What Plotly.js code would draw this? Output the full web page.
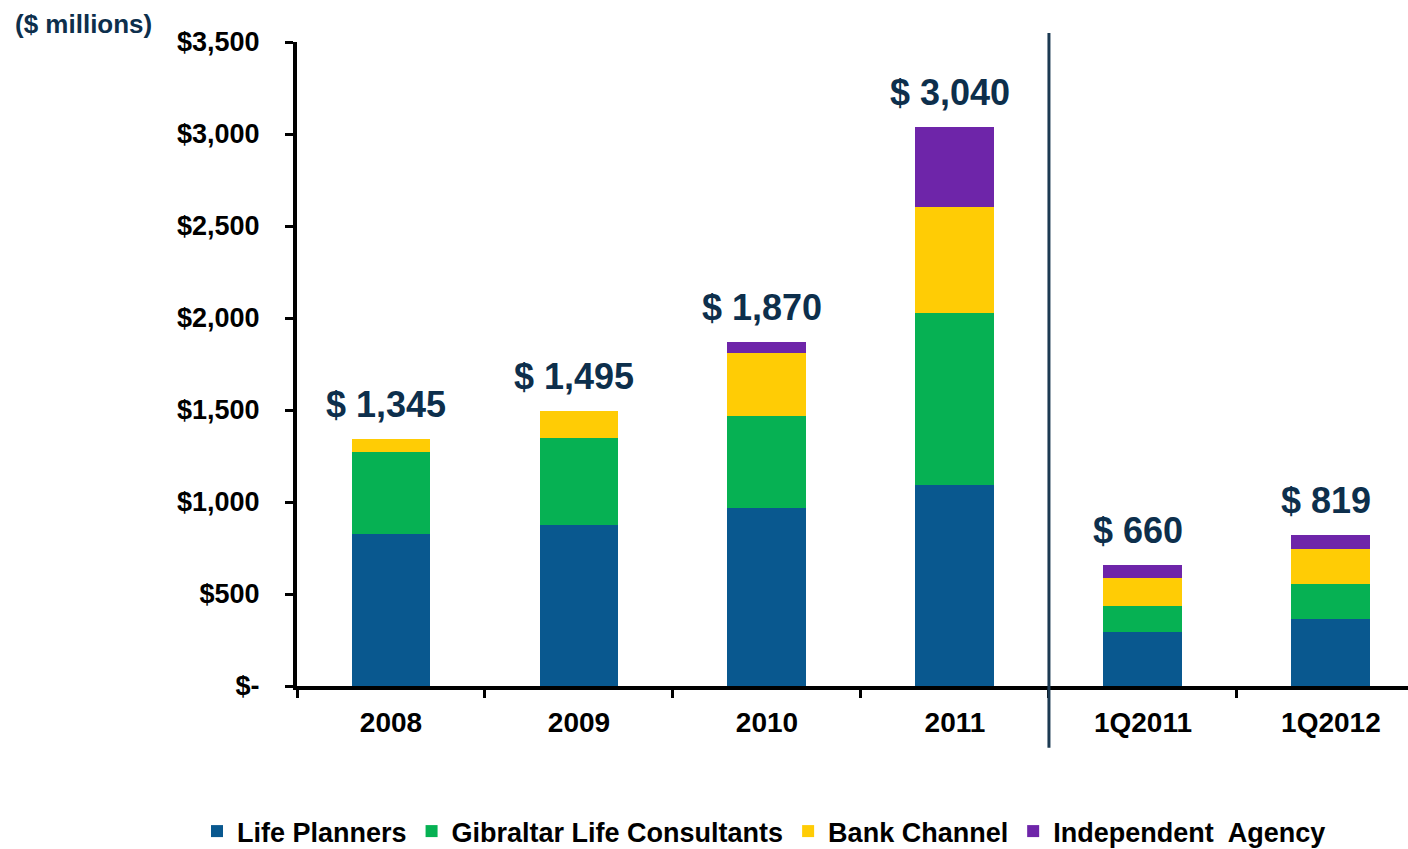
<!DOCTYPE html>
<html>
<head>
<meta charset="utf-8">
<script src="https://cdn.plot.ly/plotly-3.0.1.min.js"></script>
<style>
  html, body { margin: 0; padding: 0; background: #ffffff; }
  #chart { width: 1408px; height: 849px; }
</style>
</head>
<body>
<div id="chart"></div>
<script>
const categories = ["2008", "2009", "2010", "2011", "1Q2011", "1Q2012"];
const lifePlanners = [826, 875, 967, 1092, 293, 364];
const gibraltar = [445, 473, 500, 935, 142, 190];
const bankChannel = [74, 147, 343, 576, 152, 190];
const independentAgency = [null, null, 60, 437, 73, 75];
const totals = [1345, 1495, 1870, 3040, 660, 819];
const totalLabels = ["$ 1,345", "$ 1,495", "$ 1,870", "$ 3,040", "$ 660", "$ 819"];
const yTickVals = [0, 500, 1000, 1500, 2000, 2500, 3000, 3500];
const yTickText = ["$-", "$500", "$1,000", "$1,500", "$2,000", "$2,500", "$3,000", "$3,500"];

const FONT = "'Liberation Sans', Arial, Helvetica, sans-serif";
const NAVY = "#0d2f4c";

function series(name, values, color) {
  return {
    type: "bar",
    name: name,
    x: categories,
    y: values,
    width: 0.42,
    marker: { color: color, line: { width: 0 } },
    hoverinfo: "x+y+name"
  };
}

const data = [
  series("Life Planners", lifePlanners, "#09588f"),
  series("Gibraltar Life Consultants", gibraltar, "#06b153"),
  series("Bank Channel", bankChannel, "#ffcc05"),
  series("Independent  Agency", independentAgency, "#6e25a9")
];

const annotations = categories.map((c, i) => ({
  x: i,
  y: totals[i],
  xref: "x",
  yref: "y",
  text: "<b>" + totalLabels[i] + "</b>",
  showarrow: false,
  yanchor: "bottom",
  xanchor: "center",
  xshift: -5,
  yshift: 12,
  font: { family: FONT, size: 36, color: NAVY }
}));

annotations.push({
  xref: "paper", yref: "paper",
  x: -0.256, y: 1.028,
  xanchor: "left", yanchor: "middle",
  text: "<b>($ millions)</b>",
  showarrow: false,
  font: { family: FONT, size: 26, color: NAVY }
});

const layout = {
  width: 1408,
  height: 849,
  margin: { l: 297, r: 0, t: 42, b: 163, autoexpand: false },
  paper_bgcolor: "#ffffff",
  plot_bgcolor: "#ffffff",
  barmode: "stack",
  font: { family: FONT, color: "#000000" },
  xaxis: {
    type: "category",
    range: [-0.5, 5.41],
    showgrid: false,
    zeroline: false,
    showline: true,
    linecolor: "#000000",
    linewidth: 4,
    ticks: "outside",
    tickson: "boundaries",
    ticklen: 8,
    tickwidth: 3,
    tickcolor: "#000000",
    ticklabelstandoff: 8,
    tickfont: { family: FONT, size: 28, color: "#000000", weight: "bold" }
  },
  yaxis: {
    range: [0, 3500],
    tickvals: yTickVals,
    ticktext: yTickText,
    showgrid: false,
    zeroline: false,
    showline: true,
    linecolor: "#000000",
    linewidth: 4,
    ticks: "outside",
    ticklen: 8,
    tickwidth: 3,
    tickcolor: "#000000",
    ticklabelstandoff: 20,
    tickfont: { family: FONT, size: 27, color: "#000000", weight: "bold" }
  },
  showlegend: true,
  legend: {
    orientation: "h",
    x: -0.09,
    xanchor: "left",
    y: -0.226,
    yanchor: "middle",
    traceorder: "normal",
    itemwidth: 30,
    tracegroupgap: 0,
    font: { family: FONT, size: 27, color: "#000000", weight: "bold" },
    bgcolor: "rgba(0,0,0,0)"
  },
  annotations: annotations,
  shapes: [{
    type: "line",
    xref: "x",
    yref: "paper",
    x0: 3.5, x1: 3.5,
    y0: -0.096, y1: 1.014,
    line: { color: "#1c3a52", width: 3 }
  }]
};

Plotly.newPlot("chart", data, layout, { displayModeBar: false, staticPlot: true });
</script>
</body>
</html>
